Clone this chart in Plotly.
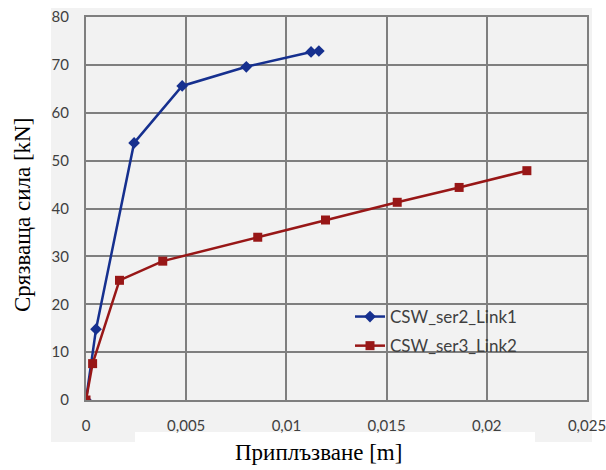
import plotly.graph_objects as go

# ---- data ----
link1_x = [0.0, 0.0005, 0.0024, 0.0048, 0.0080, 0.01123, 0.01162]
link1_y = [0.0, 14.8, 53.7, 65.6, 69.6, 72.7, 72.9]
link1_name = "CSW_ser2_Link1"

link2_x = [0.0, 0.00033, 0.00167, 0.00383, 0.00857, 0.01195, 0.01553, 0.01862, 0.0220]
link2_y = [0.0, 7.6, 25.0, 29.0, 34.0, 37.6, 41.3, 44.4, 47.9]
link2_name = "CSW_ser3_Link2"

x_ticks = [0, 0.005, 0.01, 0.015, 0.02, 0.025]
x_tick_labels = ["0", "0,005", "0,01", "0,015", "0,02", "0,025"]
y_ticks = [0, 10, 20, 30, 40, 50, 60, 70, 80]

x_title = "Приплъзване [m]"
y_title = "Срязваща сила [kN]"

# ---- layout geometry (pixels) ----
W, H = 606, 470
L, R, T, B = 86, 19, 17, 70
pw, ph = W - L - R, H - T - B


def px_x(p):
    return (p - L) / pw


def px_y(p):
    return (H - B - p) / ph


BLUE = "#16308f"
RED = "#981717"
GRID = "#7f7f7f"
TXT = "#404040"

fig = go.Figure()
fig.add_trace(go.Scatter(
    x=link1_x, y=link1_y, name=link1_name, mode="lines+markers",
    line=dict(color=BLUE, width=2.5),
    marker=dict(symbol="diamond", size=9, color=BLUE),
    legendgroup="a",
))
fig.add_trace(go.Scatter(
    x=link2_x, y=link2_y, name=link2_name, mode="lines+markers",
    line=dict(color=RED, width=2.5),
    marker=dict(symbol="square", size=9, color=RED),
    legendgroup="b",
))

fig.update_layout(
    width=W, height=H,
    margin=dict(l=L, r=R, t=T, b=B, pad=0, autoexpand=False),
    paper_bgcolor="white",
    plot_bgcolor="#f2f2f2",
    separators=", ",
    showlegend=True,
    legend=dict(
        x=px_x(350), y=px_y(299), xanchor="left", yanchor="top",
        bgcolor="rgba(0,0,0,0)", font=dict(family="Lato", size=17, color=TXT),
        tracegroupgap=4, traceorder="grouped",
    ),
    shapes=[
        dict(type="rect", xref="paper", yref="paper", layer="below",
             x0=px_x(51), x1=px_x(592), y0=px_y(442), y1=px_y(8),
             fillcolor="#f2f2f2", line=dict(width=0)),
        dict(type="rect", xref="paper", yref="paper", layer="below",
             x0=px_x(135), x1=px_x(535), y0=px_y(470), y1=px_y(432),
             fillcolor="white", line=dict(width=0)),
    ],
    annotations=[
        dict(text=x_title, xref="paper", yref="paper", x=px_x(318), y=px_y(452),
             xanchor="center", yanchor="middle", showarrow=False,
             font=dict(family="Liberation Serif", size=23, color="black")),
        dict(text=y_title, xref="paper", yref="paper", x=px_x(23), y=px_y(215),
             xanchor="center", yanchor="middle", showarrow=False, textangle=-90,
             font=dict(family="Liberation Serif", size=23, color="black")),
    ],
)

fig.update_xaxes(
    range=[0, 0.025], tickvals=x_ticks, ticktext=x_tick_labels,
    showgrid=True, gridcolor=GRID, gridwidth=2,
    showline=True, linecolor=GRID, linewidth=2, mirror=True,
    zeroline=False, ticks="", ticklabelstandoff=11, automargin=False,
    ticklabeloverflow="allow",
    tickfont=dict(family="Lato", size=15, color=TXT),
)
fig.update_yaxes(
    range=[0, 80], tickvals=y_ticks,
    showgrid=True, gridcolor=GRID, gridwidth=2,
    showline=True, linecolor=GRID, linewidth=2, mirror=True,
    zeroline=False, ticks="", ticklabelstandoff=12, automargin=False,
    tickfont=dict(family="Lato", size=15, color=TXT),
)

fig.write_html(
    "out.html",
    config={"displayModeBar": False},
    post_script="document.body.style.margin='0';document.body.style.padding='0';",
)
